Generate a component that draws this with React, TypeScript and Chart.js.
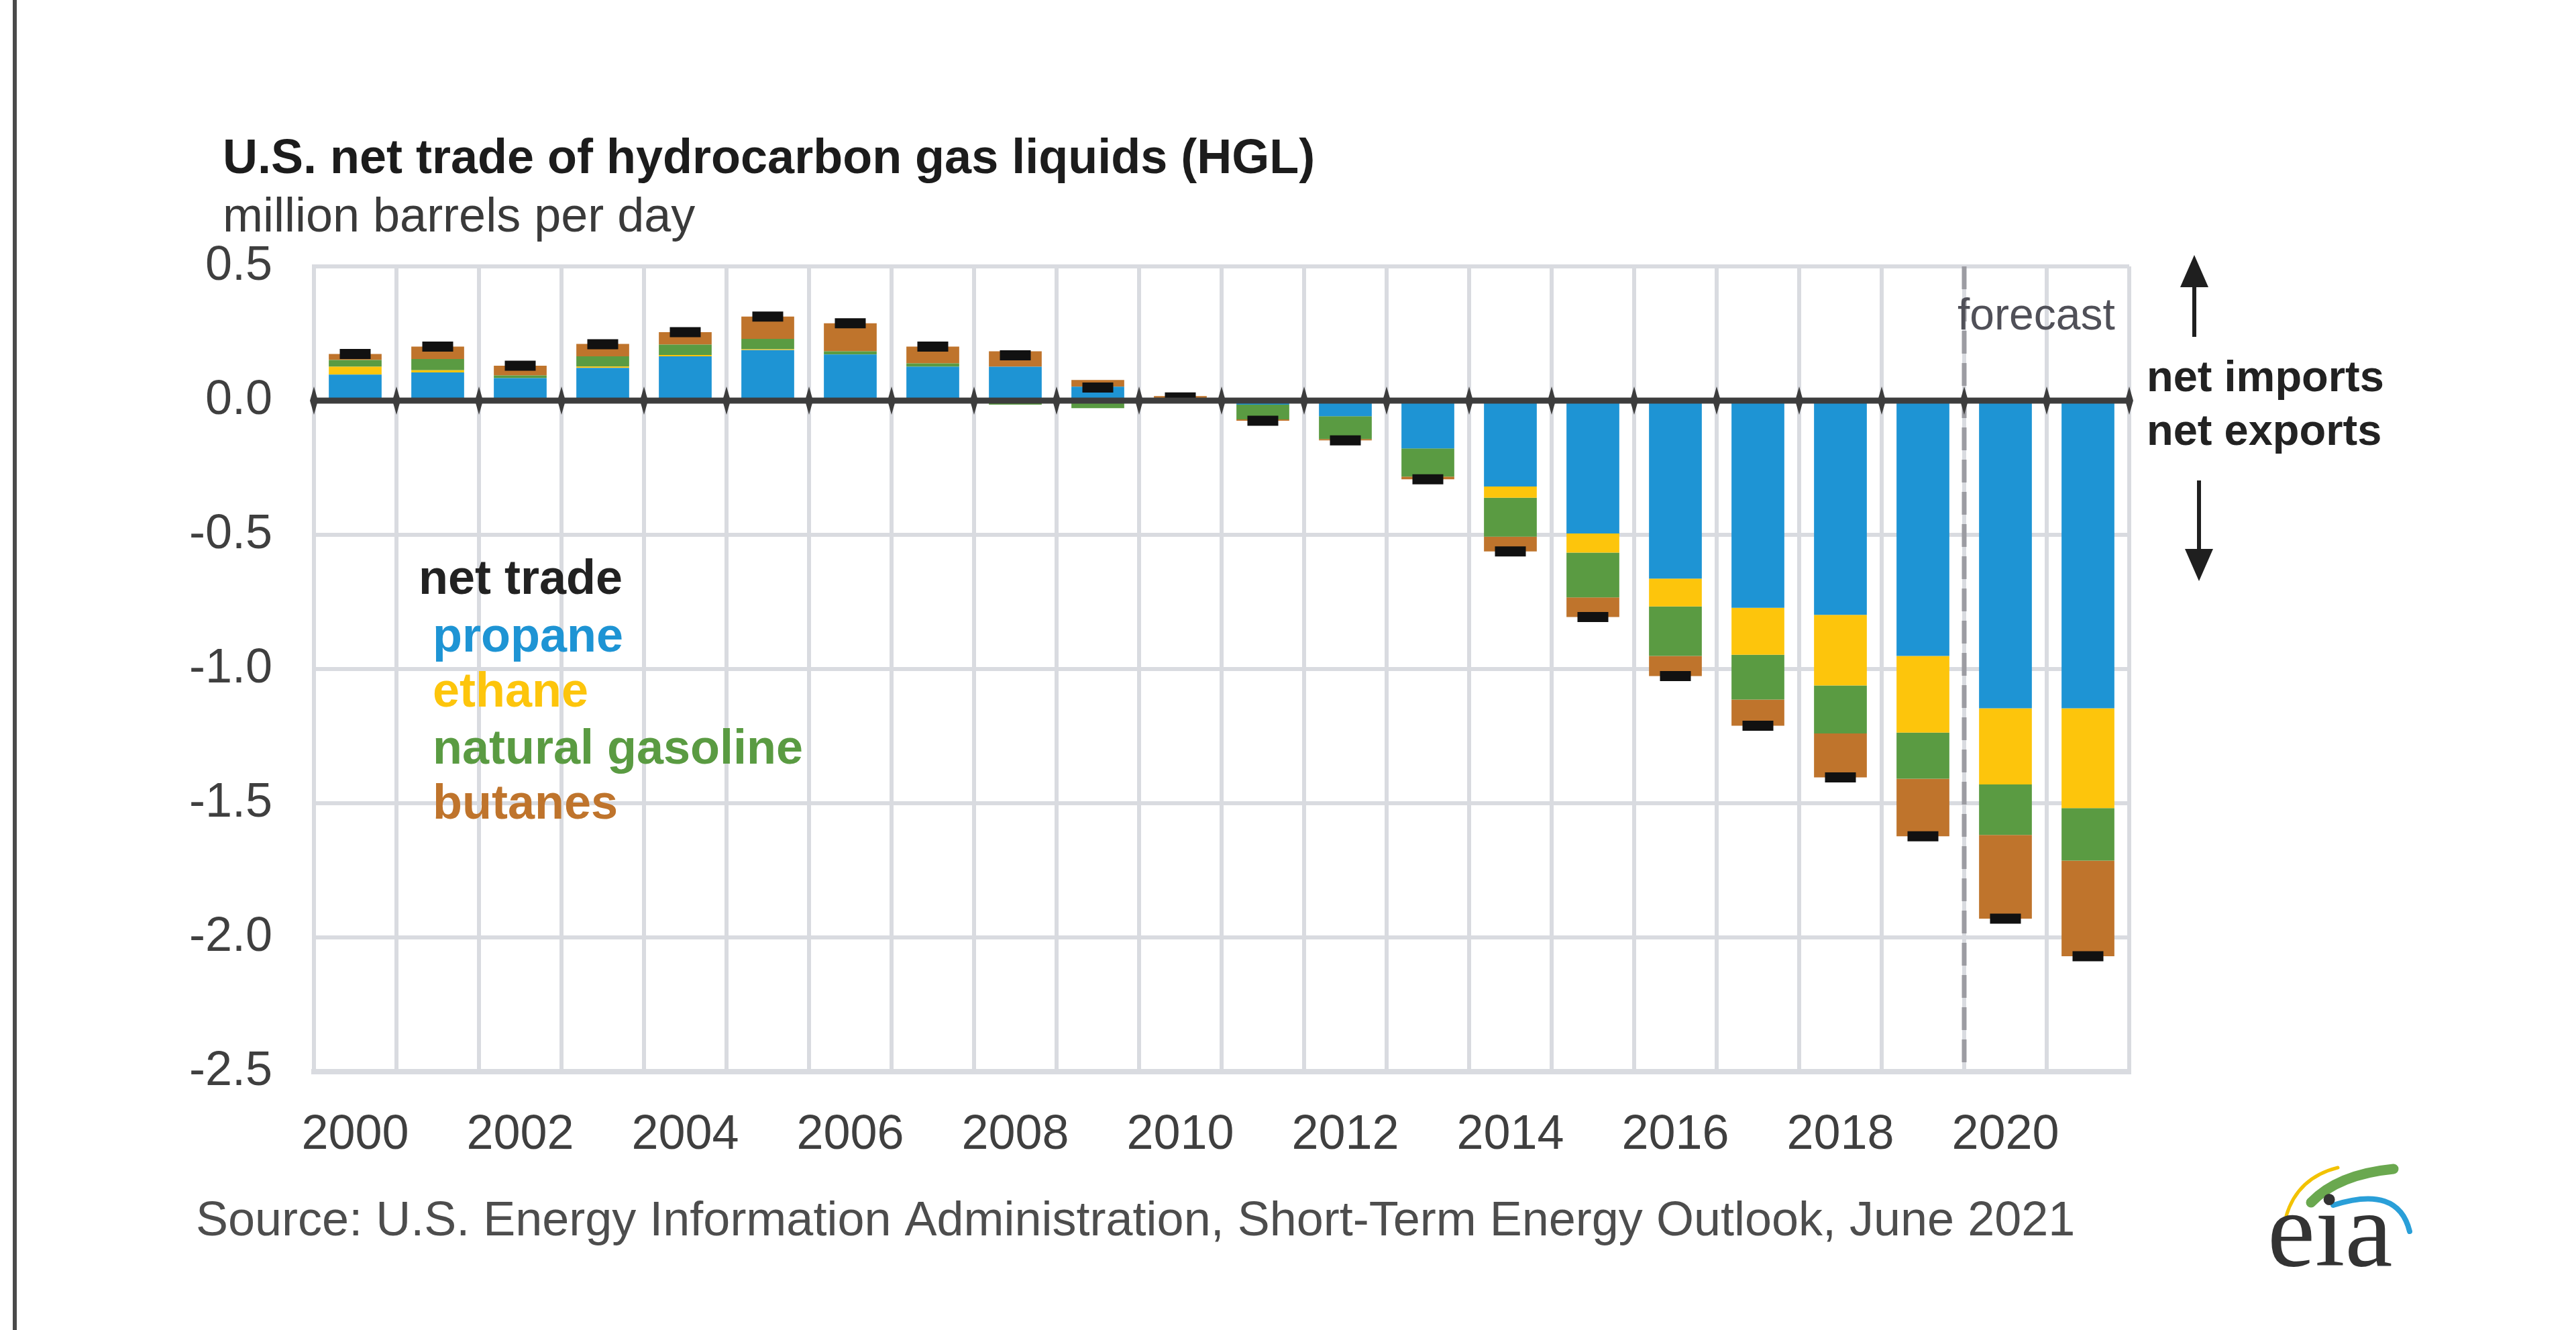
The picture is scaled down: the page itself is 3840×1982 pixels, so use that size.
import React, { useEffect, useRef } from 'react';
import { Chart, registerables } from 'chart.js';

Chart.register(...registerables);

// ---------- data ----------
const years = ['2000', '2001', '2002', '2003', '2004', '2005', '2006', '2007', '2008', '2009', '2010',
  '2011', '2012', '2013', '2014', '2015', '2016', '2017', '2018', '2019', '2020', '2021'];
const labeledYears = ['2000', '2002', '2004', '2006', '2008', '2010', '2012', '2014', '2016', '2018', '2020'];

const propane = [0.097, 0.105, 0.084, 0.122, 0.165, 0.188, 0.172, 0.126, 0.126, 0.052, 0.005,
  -0.015, -0.058, -0.178, -0.320, -0.495, -0.663, -0.772, -0.798, -0.951, -1.146, -1.146];
const ethane = [0.029, 0.008, 0.0, 0.005, 0.005, 0.003, 0.0, 0.0, 0.0, 0.0, 0.0,
  0.0, 0.0, 0.0, -0.042, -0.071, -0.104, -0.175, -0.263, -0.286, -0.284, -0.372];
const naturalGasoline = [0.025, 0.042, 0.010, 0.038, 0.039, 0.039, 0.012, 0.013, -0.015, -0.028, -0.005,
  -0.055, -0.085, -0.105, -0.145, -0.167, -0.184, -0.167, -0.179, -0.172, -0.188, -0.196];
const butanes = [0.023, 0.046, 0.036, 0.046, 0.046, 0.083, 0.104, 0.062, 0.058, 0.025, 0.012,
  -0.005, -0.005, -0.010, -0.055, -0.073, -0.075, -0.097, -0.164, -0.214, -0.312, -0.356];
const netTrade = [0.174, 0.201, 0.130, 0.210, 0.255, 0.313, 0.288, 0.201, 0.169, 0.049, 0.012,
  -0.075, -0.148, -0.293, -0.562, -0.806, -1.026, -1.211, -1.404, -1.623, -1.930, -2.070];

const yMin = -2.5;
const yMax = 0.5;
const yStep = 0.5;
const forecastStart = '2020';

const titleText = 'U.S. net trade of hydrocarbon gas liquids (HGL)';
const unitText = 'million barrels per day';
const sourceText = 'Source: U.S. Energy Information Administration, Short-Term Energy Outlook, June 2021';
const forecastText = 'forecast';
const importsText = 'net imports';
const exportsText = 'net exports';
const legendTitle = 'net trade';

// ---------- style ----------
const FONT = "'Liberation Sans', Arial, Helvetica, sans-serif";
const SERIF = "'Liberation Serif', 'Times New Roman', serif";
const GRID = '#d9dbe0';
const BLUE = '#1e94d4';
const YELLOW = '#fdc50c';
const GREEN = '#5a9b42';
const ORANGE = '#bf742c';

const decorPlugin = {
  id: 'decor',
  beforeDatasetsDraw(chart: any) {
    const { ctx, chartArea, scales } = chart;
    const x = scales.x;
    const i = years.indexOf(forecastStart);
    const bx = (x.getPixelForValue(i - 1) + x.getPixelForValue(i)) / 2;
    ctx.save();
    ctx.strokeStyle = '#9c9ca2';
    ctx.lineWidth = 7;
    ctx.setLineDash([34, 14]);
    ctx.beginPath();
    ctx.moveTo(bx, chartArea.top);
    ctx.lineTo(bx, chartArea.bottom);
    ctx.stroke();
    ctx.restore();
  },
  afterDatasetsDraw(chart: any) {
    const { ctx, chartArea, scales } = chart;
    const x = scales.x;
    const y = scales.y;
    const y0 = y.getPixelForValue(0);
    ctx.save();
    ctx.strokeStyle = '#3d3d3d';
    ctx.lineWidth = 9;
    ctx.beginPath();
    ctx.moveTo(chartArea.left, y0);
    ctx.lineTo(chartArea.right, y0);
    ctx.stroke();
    const w = x.getPixelForValue(1) - x.getPixelForValue(0);
    const start = x.getPixelForValue(0) - w / 2;
    ctx.fillStyle = '#3d3d3d';
    for (let k = 0; k <= years.length; k++) {
      const bx = start + k * w;
      ctx.beginPath();
      ctx.moveTo(bx, y0 - 21);
      ctx.lineTo(bx + 6, y0);
      ctx.lineTo(bx, y0 + 21);
      ctx.lineTo(bx - 6, y0);
      ctx.closePath();
      ctx.fill();
    }
    ctx.restore();
  },
  afterDraw(chart: any) {
    const { ctx, chartArea, scales } = chart;
    const x = scales.x;
    ctx.save();
    ctx.textBaseline = 'alphabetic';
    ctx.textAlign = 'left';

    // left frame line
    ctx.fillStyle = '#4a4a4a';
    ctx.fillRect(19, 0, 6, chart.height);

    // title + unit
    ctx.fillStyle = '#1c1c1c';
    ctx.font = `bold 72px ${FONT}`;
    ctx.fillText(titleText, 332, 258);
    ctx.fillStyle = '#3a3a3a';
    ctx.font = `72px ${FONT}`;
    ctx.fillText(unitText, 332, 345);

    // legend (inside plot)
    const ds = chart.data.datasets;
    const net = ds[ds.length - 1];
    ctx.font = `bold 72px ${FONT}`;
    ctx.fillStyle = '#222222';
    ctx.fillText(net.label, 624, 885);
    const baselines = [971, 1053, 1138, 1220];
    for (let k = 0; k < ds.length - 1; k++) {
      ctx.fillStyle = ds[k].backgroundColor;
      ctx.fillText(ds[k].label, 645, baselines[k]);
    }

    // forecast label
    const i = years.indexOf(forecastStart);
    const bx = (x.getPixelForValue(i - 1) + x.getPixelForValue(i)) / 2;
    ctx.fillStyle = '#505058';
    ctx.font = `66px ${FONT}`;
    ctx.fillText(forecastText, bx - 10, chartArea.top + 94);

    // net imports / exports
    ctx.fillStyle = '#222222';
    ctx.font = `bold 65px ${FONT}`;
    ctx.fillText(importsText, 3200, 583);
    ctx.fillText(exportsText, 3200, 663);

    // arrows
    ctx.strokeStyle = '#1f1f1f';
    ctx.fillStyle = '#1f1f1f';
    ctx.lineWidth = 6;
    ctx.beginPath();
    ctx.moveTo(3271, 502);
    ctx.lineTo(3271, 420);
    ctx.stroke();
    ctx.beginPath();
    ctx.moveTo(3271, 380);
    ctx.lineTo(3250, 428);
    ctx.lineTo(3292, 428);
    ctx.closePath();
    ctx.fill();
    ctx.beginPath();
    ctx.moveTo(3278, 716);
    ctx.lineTo(3278, 825);
    ctx.stroke();
    ctx.beginPath();
    ctx.moveTo(3278, 866);
    ctx.lineTo(3257, 818);
    ctx.lineTo(3299, 818);
    ctx.closePath();
    ctx.fill();

    // source
    ctx.fillStyle = '#4d4d4d';
    ctx.font = `72px ${FONT}`;
    ctx.fillText(sourceText, 292, 1841);

    // eia logo
    ctx.lineCap = 'round';
    ctx.strokeStyle = '#f2c200';
    ctx.lineWidth = 5;
    ctx.beginPath();
    ctx.moveTo(3408, 1812);
    ctx.quadraticCurveTo(3425, 1755, 3485, 1740);
    ctx.stroke();
    ctx.strokeStyle = '#6aa84f';
    ctx.lineWidth = 15;
    ctx.beginPath();
    ctx.moveTo(3445, 1792);
    ctx.quadraticCurveTo(3485, 1750, 3568, 1742);
    ctx.stroke();
    ctx.strokeStyle = '#2a9fd8';
    ctx.lineWidth = 8;
    ctx.beginPath();
    ctx.moveTo(3478, 1796);
    ctx.quadraticCurveTo(3575, 1765, 3592, 1835);
    ctx.stroke();
    ctx.fillStyle = '#333333';
    ctx.font = `160px ${SERIF}`;
    ctx.fillText('eia', 3380, 1886);

    ctx.restore();
  },
};

export default function App() {
  const ref = useRef<HTMLCanvasElement | null>(null);

  useEffect(() => {
    if (!ref.current) return;
    const barCommon = {
      type: 'bar' as const,
      stack: 'hgl',
      order: 1,
      borderWidth: 0,
      barPercentage: 0.64,
      categoryPercentage: 1.0,
    };
    const chart = new Chart(ref.current, {
      type: 'bar',
      data: {
        labels: years,
        datasets: [
          { ...barCommon, label: 'propane', data: propane, backgroundColor: BLUE },
          { ...barCommon, label: 'ethane', data: ethane, backgroundColor: YELLOW },
          { ...barCommon, label: 'natural gasoline', data: naturalGasoline, backgroundColor: GREEN },
          { ...barCommon, label: 'butanes', data: butanes, backgroundColor: ORANGE },
          {
            type: 'line' as const,
            label: legendTitle,
            data: netTrade,
            stack: 'net',
            order: 0,
            showLine: false,
            pointStyle: 'line',
            pointRadius: 23,
            pointHoverRadius: 23,
            pointBorderWidth: 15,
            pointBorderColor: '#111111',
            pointBackgroundColor: '#111111',
            borderColor: '#111111',
            backgroundColor: '#111111',
          } as any,
        ],
      },
      options: {
        responsive: false,
        animation: false,
        devicePixelRatio: 1,
        events: [],
        layout: { padding: { top: 397, right: 666, bottom: 0, left: 0 } },
        plugins: {
          legend: { display: false },
          tooltip: { enabled: false },
          title: { display: false },
        },
        scales: {
          x: {
            type: 'category',
            stacked: true,
            offset: true,
            grid: { offset: true, color: GRID, lineWidth: 6, drawTicks: false },
            border: { display: true, color: GRID, width: 8 },
            ticks: {
              autoSkip: false,
              maxRotation: 0,
              minRotation: 0,
              padding: 52,
              color: '#3f3f3f',
              font: { family: FONT, size: 72 },
              callback: (_v: any, idx: number) => (labeledYears.includes(years[idx]) ? years[idx] : ''),
            },
            afterFit: (s: any) => { s.height = 385; },
          },
          y: {
            type: 'linear',
            stacked: true,
            min: yMin,
            max: yMax,
            grid: { color: GRID, lineWidth: 6, drawTicks: false },
            border: { display: true, color: GRID, width: 6 },
            ticks: {
              stepSize: yStep,
              padding: 62,
              color: '#3f3f3f',
              font: { family: FONT, size: 72 },
              callback: (v: any) => Number(v).toFixed(1),
            },
            afterFit: (s: any) => { s.width = 468; },
          },
        },
      } as any,
      plugins: [decorPlugin],
    });
    return () => chart.destroy();
  }, []);

  return (
    <div style={{ position: 'fixed', left: 0, top: 0, width: 3840, height: 1982, background: '#ffffff' }}>
      <canvas ref={ref} width={3840} height={1982} style={{ width: 3840, height: 1982, display: 'block' }} />
    </div>
  );
}
